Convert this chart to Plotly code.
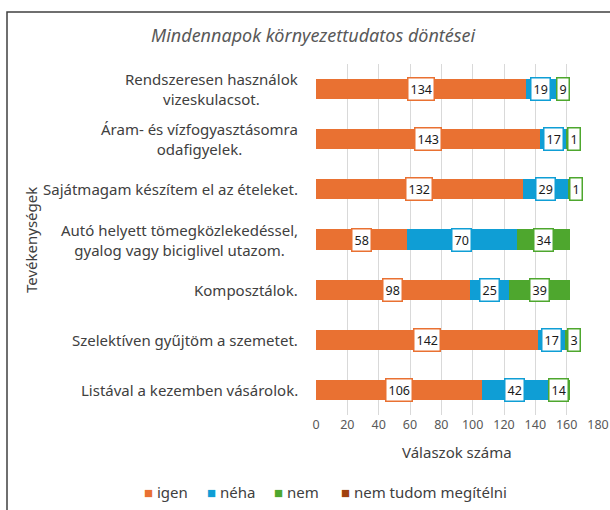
import plotly.graph_objects as go

categories = [
    "Rendszeresen használok<br>vizeskulacsot.",
    "Áram- és vízfogyasztásomra<br>odafigyelek.",
    "Sajátmagam készítem el az ételeket.",
    "Autó helyett tömegközlekedéssel,<br>gyalog vagy biciglivel utazom.",
    "Komposztálok.",
    "Szelektíven gyűjtöm a szemetet.",
    "Listával a kezemben vásárolok.",
]
igen = [134, 143, 132, 58, 98, 142, 106]
neha = [19, 17, 29, 70, 25, 17, 42]
nem = [9, 1, 1, 34, 39, 3, 14]
nem_tudom = [0, 1, 0, 0, 0, 0, 0]

series_names = ["igen", "néha", "nem", "nem tudom megítélni"]
series_values = [igen, neha, nem, nem_tudom]
colors = ["#E97132", "#0F9ED5", "#4EA72E", "#A0410D"]
show_labels = [True, True, True, False]
x_ticks = [0, 20, 40, 60, 80, 100, 120, 140, 160, 180]

FONT = "Noto Sans, Arial"
W, H = 610, 510
L, R, T, B = 316, 12, 64, 95
PW, PH = W - L - R, H - T - B


def px_x(px):
    return (px - L) / PW


def px_y(py):
    return (H - B - py) / PH


cat_ids = list(range(len(categories)))

fig = go.Figure()
for name, vals, col in zip(series_names, series_values, colors):
    fig.add_trace(go.Bar(
        y=cat_ids, x=vals, name=name, orientation="h",
        marker=dict(color=col, line=dict(width=0)),
        hoverinfo="x+name", showlegend=False,
    ))

annotations = []
# data labels
cum = [0] * len(categories)
for vals, col, show in zip(series_values, colors, show_labels):
    for i, v in enumerate(vals):
        if show and v > 0:
            shift = 7 if v < 5 else 0
            annotations.append(dict(
                x=cum[i] + v / 2, y=cat_ids[i], xref="x", yref="y",
                text=str(v), showarrow=False, xshift=shift,
                font=dict(family=FONT, size=12.5, color="#1a1a1a"),
                bgcolor="white", bordercolor=col, borderwidth=1.5, borderpad=2,
            ))
        cum[i] += v

# category labels (centered multi-line)
for i, c in enumerate(categories):
    annotations.append(dict(
        x=px_x(300), y=cat_ids[i], xref="paper", yref="y",
        text=c, showarrow=False, xanchor="right", yanchor="middle", align="center",
        font=dict(family=FONT, size=15, color="#404040"),
    ))

# title
annotations.append(dict(
    x=px_x(313), y=px_y(35), xref="paper", yref="paper",
    text="<i>Mindennapok környezettudatos döntései</i>", showarrow=False,
    xanchor="center", yanchor="middle",
    font=dict(family=FONT, size=18, color="#595959"),
))
# y-axis title
annotations.append(dict(
    x=px_x(31), y=px_y(240), xref="paper", yref="paper",
    text="Tevékenységek", showarrow=False, textangle=-90,
    xanchor="center", yanchor="middle",
    font=dict(family=FONT, size=15, color="#404040"),
))
# x-axis title
annotations.append(dict(
    x=0.5, y=px_y(452), xref="paper", yref="paper",
    text="Válaszok száma", showarrow=False,
    xanchor="center", yanchor="middle",
    font=dict(family=FONT, size=15, color="#404040"),
))
# legend (drawn as text with coloured squares)
legend_starts = [142, 205, 272, 339]
for name, col, xs in zip(series_names, colors, legend_starts):
    annotations.append(dict(
        x=px_x(xs), y=px_y(492), xref="paper", yref="paper",
        text=f'<span style="color:{col}">■</span> {name}', showarrow=False,
        xanchor="left", yanchor="middle",
        font=dict(family=FONT, size=15, color="#404040"),
    ))

fig.update_layout(
    width=W, height=H,
    margin=dict(l=L, r=R, t=T, b=B),
    paper_bgcolor="white", plot_bgcolor="white",
    barmode="stack", bargap=0.6,
    showlegend=False,
    xaxis=dict(
        range=[0, 180], tickvals=x_ticks, ticktext=[str(t) for t in x_ticks],
        showgrid=True, gridcolor="#D9D9D9", gridwidth=1, zeroline=False,
        showline=False, ticks="", automargin=False,
        tickfont=dict(family=FONT, size=12.5, color="#595959"),
    ),
    yaxis=dict(
        range=[len(categories) - 0.5, -0.5], showticklabels=False,
        showgrid=False, zeroline=False, showline=False, ticks="", automargin=False,
    ),
    annotations=annotations,
    shapes=[dict(
        type="rect", xref="paper", yref="paper",
        x0=px_x(7), x1=px_x(620),
        y0=px_y(520), y1=px_y(12),
        line=dict(color="#404040", width=1.5), fillcolor="rgba(0,0,0,0)",
        layer="below",
    )],
)

fig.write_html(
    "out.html",
    config={"displayModeBar": False},
    post_script="document.body.style.margin='0';document.body.style.overflow='hidden';",
)
